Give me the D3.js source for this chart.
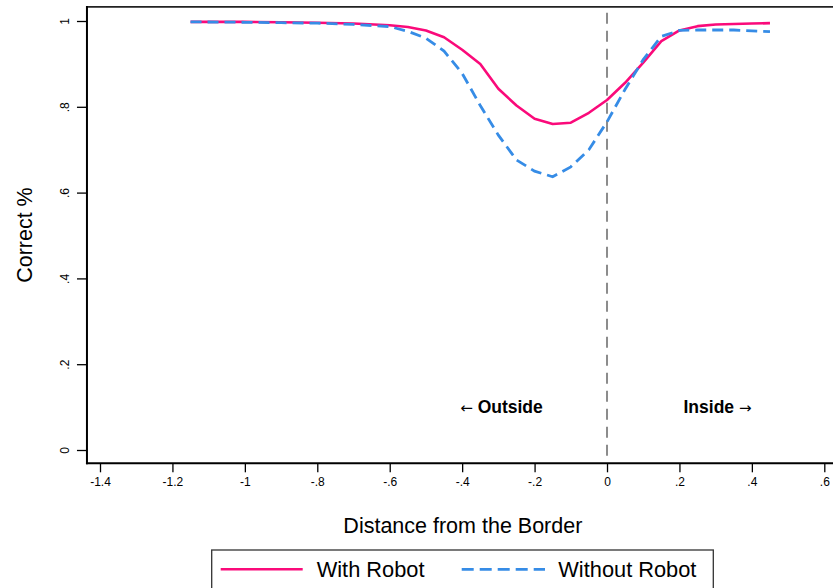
<!DOCTYPE html>
<html>
<head>
<meta charset="utf-8">
<script src="https://cdn.jsdelivr.net/npm/d3@7"></script>
<style>
  html, body { margin: 0; padding: 0; background: #fff; }
  svg { display: block; font-family: "Liberation Sans", Arial, Helvetica, sans-serif; }
</style>
</head>
<body>
<svg id="chart" width="833" height="588"></svg>
<script>
// Share of correct answers by distance from the border
const distance = [-1.15, -1.0, -0.9, -0.8, -0.7, -0.6, -0.55, -0.5, -0.45, -0.4, -0.35, -0.3, -0.25, -0.2, -0.15, -0.1, -0.05, 0, 0.05, 0.1, 0.15, 0.2, 0.25, 0.3, 0.35, 0.4, 0.45];
const withRobot = [0.998, 0.998, 0.997, 0.996, 0.994, 0.990, 0.986, 0.978, 0.962, 0.933, 0.900, 0.842, 0.803, 0.772, 0.760, 0.763, 0.786, 0.816, 0.856, 0.903, 0.953, 0.978, 0.988, 0.992, 0.993, 0.994, 0.995];
const withoutRobot = [0.998, 0.997, 0.996, 0.995, 0.992, 0.987, 0.976, 0.960, 0.930, 0.878, 0.803, 0.734, 0.676, 0.650, 0.637, 0.660, 0.700, 0.765, 0.841, 0.910, 0.964, 0.978, 0.979, 0.979, 0.979, 0.977, 0.975];

const xTicks = [-1.4, -1.2, -1, -0.8, -0.6, -0.4, -0.2, 0, 0.2, 0.4, 0.6];
const xTickLabels = ["-1.4", "-1.2", "-1", "-.8", "-.6", "-.4", "-.2", "0", ".2", ".4", ".6"];
const yTicks = [0, 0.2, 0.4, 0.6, 0.8, 1];
const yTickLabels = ["0", ".2", ".4", ".6", ".8", "1"];

const seriesNames = ["With Robot", "Without Robot"];
const seriesColors = ["#fa0a7a", "#368ce6"];

const svg = d3.select("#chart");

const x = d3.scaleLinear().domain([-1.4, 0.6]).range([100, 824.3]);
const y = d3.scaleLinear().domain([0, 1]).range([450, 21]);

// plot region bounds
const xMin = -1.436, xMax = 0.64;
const yMin = -0.031, yMax = 1.033;
const plotLeft = x(xMin), plotRight = x(xMax), plotTop = y(yMax), plotBottom = y(yMin);

// axes
const yAxis = d3.axisLeft(y)
  .tickValues(yTicks)
  .tickFormat((d, i) => yTickLabels[i])
  .tickSize(10);
const gy = svg.append("g").attr("transform", `translate(${plotLeft},0)`).call(yAxis);
gy.select(".domain").remove();
gy.selectAll(".tick line").attr("stroke", "#000").attr("stroke-width", 1.3);
gy.selectAll(".tick text")
  .attr("transform", "rotate(-90)")
  .attr("x", 0).attr("y", -17.5).attr("dy", 0)
  .attr("text-anchor", "middle")
  .attr("fill", "#000")
  .style("font-size", "12px")
  .style("font-family", "Liberation Sans, Arial, sans-serif");

const xAxis = d3.axisBottom(x)
  .tickValues(xTicks)
  .tickFormat((d, i) => xTickLabels[i])
  .tickSize(9)
  .tickPadding(5);
const gx = svg.append("g").attr("transform", `translate(0,${plotBottom})`).call(xAxis);
gx.select(".domain").remove();
gx.selectAll(".tick line").attr("stroke", "#000").attr("stroke-width", 1.3);
gx.selectAll(".tick text")
  .attr("fill", "#000")
  .style("font-size", "12px")
  .style("font-family", "Liberation Sans, Arial, sans-serif");

// frame
svg.append("line").attr("x1", plotLeft).attr("x2", plotRight).attr("y1", plotTop).attr("y2", plotTop)
  .attr("stroke", "#222").attr("stroke-width", 1.8);
svg.append("line").attr("x1", plotLeft).attr("x2", plotLeft).attr("y1", plotTop - 0.9).attr("y2", plotBottom + 1)
  .attr("stroke", "#000").attr("stroke-width", 2);
svg.append("line").attr("x1", plotLeft - 1).attr("x2", plotRight).attr("y1", plotBottom).attr("y2", plotBottom)
  .attr("stroke", "#000").attr("stroke-width", 2);

// border reference line
svg.append("line")
  .attr("x1", x(0)).attr("x2", x(0))
  .attr("y1", y(1.019)).attr("y2", plotBottom - 1)
  .attr("stroke", "#8c8c8c").attr("stroke-width", 2)
  .attr("stroke-dasharray", "11,7");

// curves
const line = d3.line().x(d => x(d[0])).y(d => y(d[1]));
const withData = distance.map((d, i) => [d, withRobot[i]]);
const withoutData = distance.map((d, i) => [d, withoutRobot[i]]);

svg.append("path").datum(withData)
  .attr("d", line).attr("fill", "none")
  .attr("stroke", seriesColors[0]).attr("stroke-width", 2.6)
  .attr("stroke-linejoin", "round");
svg.append("path").datum(withoutData)
  .attr("d", line).attr("fill", "none")
  .attr("stroke", seriesColors[1]).attr("stroke-width", 2.8)
  .attr("stroke-dasharray", "11,6");

// region annotations
const outside = svg.append("text").attr("x", 501.5).attr("y", 413)
  .attr("text-anchor", "middle").style("font-weight", "bold").style("font-size", "17.5px");
outside.append("tspan").style("font-family", "DejaVu Sans").style("font-weight", "normal").style("font-size", "15px").text("\u2190");
outside.append("tspan").text(" Outside");
const inside = svg.append("text").attr("x", 717.5).attr("y", 413)
  .attr("text-anchor", "middle").style("font-weight", "bold").style("font-size", "17.5px");
inside.append("tspan").text("Inside ");
inside.append("tspan").style("font-family", "DejaVu Sans").style("font-weight", "normal").style("font-size", "15px").text("\u2192");

// axis titles
svg.append("text")
  .attr("transform", `translate(31.5,${(plotTop + plotBottom) / 2}) rotate(-90)`)
  .attr("text-anchor", "middle").style("font-size", "21.5px")
  .text("Correct %");
svg.append("text")
  .attr("x", (plotLeft + plotRight) / 2).attr("y", 532.5)
  .attr("text-anchor", "middle").style("font-size", "21.5px")
  .text("Distance from the Border");

// legend
svg.append("rect").attr("x", 211.7).attr("y", 550).attr("width", 501.6).attr("height", 50)
  .attr("fill", "#fff").attr("stroke", "#333").attr("stroke-width", 1.3);
svg.append("line").attr("x1", 220.7).attr("x2", 302.7).attr("y1", 569.3).attr("y2", 569.3)
  .attr("stroke", seriesColors[0]).attr("stroke-width", 2.6);
svg.append("text").attr("x", 316.7).attr("y", 577).style("font-size", "21.8px").text(seriesNames[0]);
svg.append("line").attr("x1", 461.7).attr("x2", 545).attr("y1", 569.3).attr("y2", 569.3)
  .attr("stroke", seriesColors[1]).attr("stroke-width", 2.8).attr("stroke-dasharray", "12,6");
svg.append("text").attr("x", 558.3).attr("y", 577).style("font-size", "21.8px").text(seriesNames[1]);
</script>
</body>
</html>
